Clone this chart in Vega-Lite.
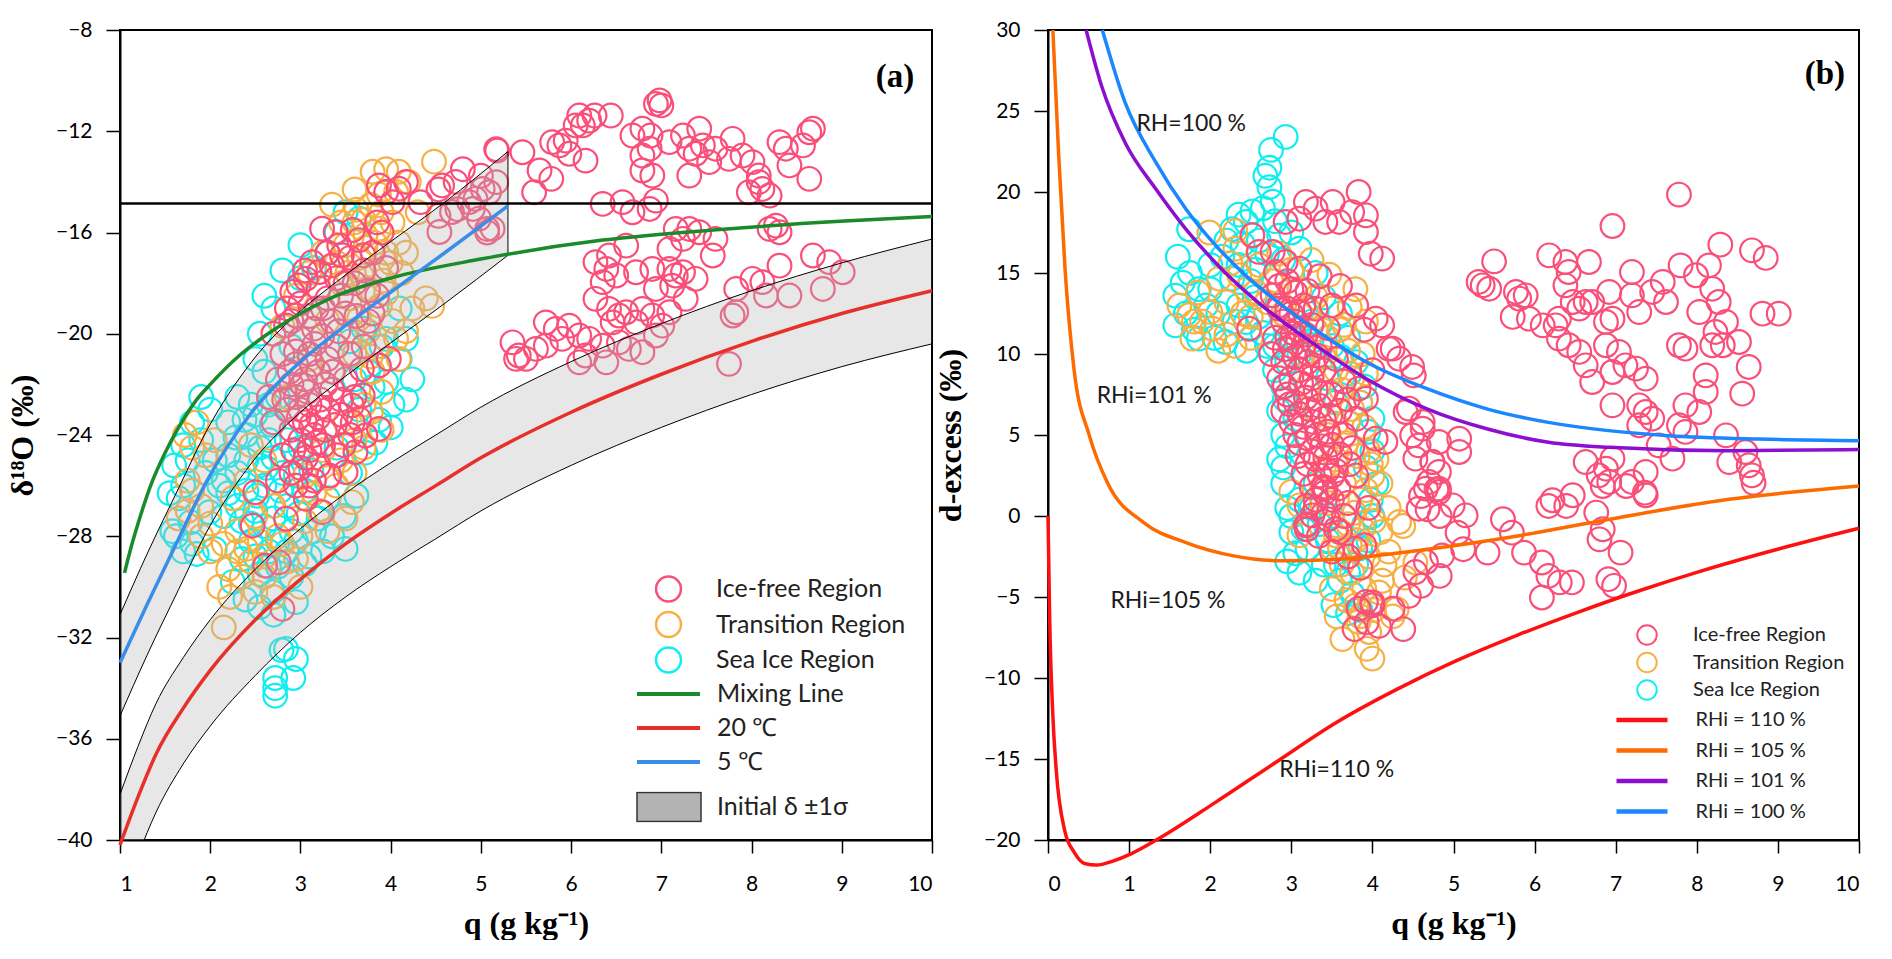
{
  "$schema": "https://vega.github.io/schema/vega-lite/v6.json",
  "background": "white",
  "padding": {"left": 5, "top": 18, "right": 0, "bottom": 0},
  "bounds": "flush",
  "spacing": 116,
  "config": {
    "view": {"stroke": "black", "strokeWidth": 2},
    "axis": {
      "grid": false, "domainColor": "black", "domainWidth": 2,
      "tickColor": "black", "tickWidth": 1.5, "tickSize": 13,
      "labelFont": "Lato", "labelFontSize": 21, "labelColor": "black",
      "titleFont": "Liberation Serif", "titleFontWeight": "bold", "titleFontSize": 32, "titleColor": "black"
    },
    "axisX": {"labelPadding": 20, "titlePadding": 14},
    "axisY": {"labelPadding": 14, "tickSize": 14, "titlePadding": 16},
    "legend": {"padding": 0, "labelFont": "Lato", "labelColor": "#222222", "labelLimit": 400, "symbolOpacity": 1}
  },
  "resolve": {"scale": {"color": "independent", "stroke": "independent", "fill": "independent"}},
  "datasets": {
    "ptsA": [
      {"s":"S","q":3.5,"d":-15.2},{"s":"S","q":3.65,"d":-15.45},{"s":"S","q":3.4,"d":-16.0},{"s":"S","q":3.3,"d":-16.8},{"s":"S","q":3.15,"d":-17.4},
      {"s":"S","q":4.17,"d":-20.2},{"s":"S","q":4.24,"d":-21.8},{"s":"S","q":4.17,"d":-22.6},{"s":"S","q":4.02,"d":-22.8},{"s":"S","q":3.87,"d":-23.4},
      {"s":"S","q":3.83,"d":-24.3},{"s":"S","q":3.72,"d":-24.7},{"s":"S","q":3.9,"d":-20.5},{"s":"S","q":3.75,"d":-21.5},{"s":"S","q":3.95,"d":-21.9},
      {"s":"S","q":4.1,"d":-19.0},{"s":"S","q":3.0,"d":-24.5},{"s":"S","q":2.8,"d":-25.5},{"s":"S","q":2.6,"d":-26.0},{"s":"S","q":2.5,"d":-27.0},
      {"s":"S","q":2.7,"d":-27.3},{"s":"S","q":2.9,"d":-27.8},{"s":"S","q":2.4,"d":-26.2},{"s":"S","q":2.3,"d":-25.5},{"s":"S","q":2.2,"d":-24.8},
      {"s":"S","q":2.45,"d":-28.2},{"s":"S","q":2.65,"d":-28.6},{"s":"S","q":2.55,"d":-29.5},{"s":"S","q":2.75,"d":-29.2},{"s":"S","q":2.84,"d":-32.45},
      {"s":"S","q":2.95,"d":-32.85},{"s":"S","q":2.39,"d":-30.5},{"s":"S","q":2.69,"d":-30.2},{"s":"S","q":2.79,"d":-32.5},{"s":"S","q":2.72,"d":-33.6},
      {"s":"S","q":2.92,"d":-33.6},{"s":"S","q":2.72,"d":-34.0},{"s":"S","q":2.72,"d":-34.3},{"s":"S","q":1.65,"d":-26.5},{"s":"S","q":1.78,"d":-27.45},
      {"s":"S","q":1.85,"d":-28.7},{"s":"S","q":1.58,"d":-27.8},{"s":"S","q":1.99,"d":-27.05},{"s":"S","q":1.6,"d":-25.2},{"s":"S","q":1.7,"d":-26.0},
      {"s":"S","q":1.9,"d":-22.5},{"s":"S","q":2.0,"d":-23.0},{"s":"S","q":2.2,"d":-23.5},{"s":"S","q":1.8,"d":-28.3},{"s":"S","q":1.62,"d":-28.0},
      {"s":"S","q":2.1,"d":-26.0},{"s":"S","q":1.75,"d":-25.0},{"s":"S","q":2.05,"d":-28.5},{"s":"S","q":2.3,"d":-22.5},{"s":"S","q":2.5,"d":-23.2},
      {"s":"S","q":2.6,"d":-21.5},{"s":"S","q":2.75,"d":-22.5},{"s":"S","q":3.05,"d":-26.2},{"s":"S","q":3.2,"d":-27.3},{"s":"S","q":3.35,"d":-28.0},
      {"s":"S","q":3.5,"d":-28.5},{"s":"S","q":3.3,"d":-26.5},{"s":"S","q":2.9,"d":-20.5},{"s":"S","q":2.7,"d":-19.0},{"s":"S","q":2.8,"d":-17.5},
      {"s":"S","q":2.6,"d":-18.5},{"s":"S","q":3.0,"d":-16.5},{"s":"S","q":3.7,"d":-19.8},{"s":"S","q":3.55,"d":-20.3},{"s":"S","q":3.65,"d":-23.0},
      {"s":"S","q":2.4,"d":-24.0},{"s":"S","q":1.95,"d":-25.5},{"s":"S","q":2.15,"d":-27.2},{"s":"S","q":3.1,"d":-28.8},{"s":"S","q":2.9,"d":-29.6},
      {"s":"S","q":2.35,"d":-27.4},{"s":"S","q":2.55,"d":-25.2},{"s":"S","q":2.85,"d":-26.8},{"s":"S","q":2.65,"d":-24.2},{"s":"S","q":2.45,"d":-22.8},
      {"s":"S","q":2.3,"d":-26.8},{"s":"S","q":2.45,"d":-27.5},{"s":"S","q":2.6,"d":-27.6},{"s":"S","q":2.75,"d":-28.2},{"s":"S","q":2.85,"d":-28.6},
      {"s":"S","q":2.95,"d":-28.2},{"s":"S","q":3.05,"d":-29.1},{"s":"S","q":2.65,"d":-29.2},{"s":"S","q":2.5,"d":-28.8},{"s":"S","q":2.35,"d":-28.9},
      {"s":"S","q":2.25,"d":-29.8},{"s":"S","q":2.55,"d":-30.8},{"s":"S","q":2.7,"d":-31.1},{"s":"S","q":2.95,"d":-30.6},{"s":"S","q":2.15,"d":-25.8},
      {"s":"S","q":2.05,"d":-25.0},{"s":"S","q":2.2,"d":-26.3},{"s":"S","q":2.4,"d":-25.0},{"s":"S","q":2.55,"d":-24.5},{"s":"S","q":2.7,"d":-24.9},
      {"s":"S","q":2.85,"d":-24.2},{"s":"S","q":2.95,"d":-25.6},{"s":"S","q":3.15,"d":-27.8},{"s":"S","q":3.25,"d":-28.6},{"s":"S","q":1.9,"d":-24.2},
      {"s":"S","q":1.8,"d":-23.5},{"s":"S","q":1.7,"d":-24.4},{"s":"S","q":1.55,"d":-26.3},{"s":"S","q":1.7,"d":-28.6},{"s":"S","q":3.4,"d":-24.5},
      {"s":"S","q":3.55,"d":-25.5},{"s":"S","q":3.8,"d":-22.1},{"s":"S","q":4.0,"d":-23.7},{"s":"S","q":4.1,"d":-21.0},{"s":"S","q":3.95,"d":-20.2},
      {"s":"S","q":3.6,"d":-21.8},{"s":"S","q":2.55,"d":-20.0},{"s":"S","q":2.65,"d":-22.8},{"s":"S","q":2.5,"d":-21.0},{"s":"S","q":3.0,"d":-17.8},
      {"s":"S","q":2.62,"d":-25.3},{"s":"S","q":2.78,"d":-26.2},{"s":"S","q":2.52,"d":-26.4},{"s":"S","q":2.68,"d":-23.6},{"s":"S","q":2.38,"d":-23.4},
      {"s":"S","q":3.12,"d":-25.4},{"s":"S","q":2.98,"d":-27.1},{"s":"S","q":2.28,"d":-24.1},{"s":"S","q":3.48,"d":-27.2},{"s":"S","q":3.62,"d":-26.4},

      {"s":"T","q":3.8,"d":-13.6},{"s":"T","q":3.95,"d":-13.5},{"s":"T","q":4.09,"d":-13.6},{"s":"T","q":4.48,"d":-13.2},{"s":"T","q":4.06,"d":-14.4},
      {"s":"T","q":3.87,"d":-14.5},{"s":"T","q":3.72,"d":-16.1},{"s":"T","q":3.87,"d":-15.85},{"s":"T","q":4.09,"d":-16.4},{"s":"T","q":4.17,"d":-16.8},
      {"s":"T","q":3.6,"d":-15.6},{"s":"T","q":3.5,"d":-16.5},{"s":"T","q":3.4,"d":-17.2},{"s":"T","q":3.65,"d":-17.0},{"s":"T","q":3.85,"d":-17.5},
      {"s":"T","q":4.0,"d":-17.2},{"s":"T","q":3.75,"d":-18.2},{"s":"T","q":3.55,"d":-18.6},{"s":"T","q":3.95,"d":-18.4},{"s":"T","q":4.39,"d":-18.6},
      {"s":"T","q":4.46,"d":-18.9},{"s":"T","q":4.24,"d":-19.0},{"s":"T","q":4.17,"d":-19.9},{"s":"T","q":4.06,"d":-20.2},{"s":"T","q":4.09,"d":-21.0},
      {"s":"T","q":3.3,"d":-19.5},{"s":"T","q":3.35,"d":-21.5},{"s":"T","q":3.6,"d":-20.8},{"s":"T","q":3.8,"d":-21.5},{"s":"T","q":3.5,"d":-23.5},
      {"s":"T","q":3.7,"d":-24.5},{"s":"T","q":3.6,"d":-25.5},{"s":"T","q":3.4,"d":-26.0},{"s":"T","q":3.57,"d":-26.65},{"s":"T","q":3.5,"d":-27.3},
      {"s":"T","q":3.2,"d":-27.0},{"s":"T","q":3.0,"d":-28.0},{"s":"T","q":2.8,"d":-28.3},{"s":"T","q":2.6,"d":-28.8},{"s":"T","q":2.4,"d":-28.5},
      {"s":"T","q":2.3,"d":-27.8},{"s":"T","q":2.5,"d":-27.2},{"s":"T","q":2.7,"d":-26.8},{"s":"T","q":2.9,"d":-26.4},{"s":"T","q":2.2,"d":-29.3},
      {"s":"T","q":2.35,"d":-29.6},{"s":"T","q":2.22,"d":-30.4},{"s":"T","q":2.15,"d":-31.6},{"s":"T","q":2.0,"d":-27.5},{"s":"T","q":1.9,"d":-26.8},
      {"s":"T","q":1.8,"d":-24.5},{"s":"T","q":1.72,"d":-24.0},{"s":"T","q":1.85,"d":-23.5},{"s":"T","q":1.95,"d":-24.8},{"s":"T","q":2.05,"d":-24.2},
      {"s":"T","q":1.65,"d":-27.3},{"s":"T","q":1.75,"d":-27.0},{"s":"T","q":2.6,"d":-25.0},{"s":"T","q":2.45,"d":-24.4},{"s":"T","q":3.05,"d":-25.6},
      {"s":"T","q":3.25,"d":-24.6},{"s":"T","q":2.85,"d":-22.5},{"s":"T","q":3.1,"d":-21.0},{"s":"T","q":2.8,"d":-19.7},{"s":"T","q":2.95,"d":-18.5},
      {"s":"T","q":3.1,"d":-17.6},{"s":"T","q":3.25,"d":-16.8},{"s":"T","q":3.45,"d":-15.6},{"s":"T","q":3.35,"d":-14.9},{"s":"T","q":3.6,"d":-14.3},
      {"s":"T","q":4.2,"d":-14.0},{"s":"T","q":4.3,"d":-15.2},{"s":"T","q":3.7,"d":-22.8},{"s":"T","q":3.9,"d":-23.8},{"s":"T","q":3.0,"d":-30.0},
      {"s":"T","q":3.62,"d":-15.1},{"s":"T","q":3.78,"d":-14.9},{"s":"T","q":3.9,"d":-15.2},{"s":"T","q":4.02,"d":-15.6},{"s":"T","q":3.7,"d":-15.5},
      {"s":"T","q":3.82,"d":-16.4},{"s":"T","q":3.95,"d":-16.8},{"s":"T","q":4.12,"d":-17.6},{"s":"T","q":3.68,"d":-17.7},{"s":"T","q":3.88,"d":-18.9},
      {"s":"T","q":4.02,"d":-19.5},{"s":"T","q":3.65,"d":-19.4},{"s":"T","q":3.45,"d":-18.0},{"s":"T","q":3.85,"d":-20.5},{"s":"T","q":3.9,"d":-22.3},
      {"s":"T","q":3.78,"d":-23.1},{"s":"T","q":3.6,"d":-24.2},{"s":"T","q":3.45,"d":-25.0},{"s":"T","q":3.3,"d":-25.7},{"s":"T","q":3.15,"d":-26.3},
      {"s":"T","q":3.3,"d":-27.8},{"s":"T","q":3.05,"d":-27.4},{"s":"T","q":2.95,"d":-28.9},{"s":"T","q":2.75,"d":-28.0},{"s":"T","q":2.55,"d":-28.2},
      {"s":"T","q":2.45,"d":-29.0},{"s":"T","q":2.3,"d":-28.6},{"s":"T","q":2.15,"d":-28.3},{"s":"T","q":2.0,"d":-28.6},{"s":"T","q":1.9,"d":-28.0},
      {"s":"T","q":2.1,"d":-30.0},{"s":"T","q":2.6,"d":-29.6},{"s":"T","q":2.85,"d":-29.0},{"s":"T","q":2.7,"d":-30.4},{"s":"T","q":2.5,"d":-30.2},
      {"s":"T","q":1.8,"d":-26.2},{"s":"T","q":2.25,"d":-26.5},{"s":"T","q":2.4,"d":-25.8},{"s":"T","q":1.75,"d":-25.8},{"s":"T","q":3.75,"d":-19.9},
      {"s":"T","q":3.52,"d":-17.6},{"s":"T","q":3.72,"d":-16.6},{"s":"T","q":3.92,"d":-17.9},{"s":"T","q":3.58,"d":-19.9},{"s":"T","q":3.78,"d":-20.9},

      {"s":"I","q":2.95,"d":-22.5},{"s":"I","q":3.0,"d":-23.0},{"s":"I","q":3.05,"d":-23.5},{"s":"I","q":3.1,"d":-22.8},{"s":"I","q":3.15,"d":-24.0},
      {"s":"I","q":3.2,"d":-23.3},{"s":"I","q":3.0,"d":-24.2},{"s":"I","q":2.9,"d":-23.8},{"s":"I","q":3.1,"d":-24.6},{"s":"I","q":3.25,"d":-24.4},
      {"s":"I","q":3.3,"d":-23.0},{"s":"I","q":3.35,"d":-22.2},{"s":"I","q":3.05,"d":-21.8},{"s":"I","q":2.9,"d":-22.0},{"s":"I","q":2.85,"d":-23.0},
      {"s":"I","q":3.2,"d":-21.5},{"s":"I","q":3.3,"d":-21.0},{"s":"I","q":3.1,"d":-20.8},{"s":"I","q":2.95,"d":-21.2},{"s":"I","q":3.4,"d":-20.5},
      {"s":"I","q":3.0,"d":-20.2},{"s":"I","q":2.8,"d":-20.8},{"s":"I","q":2.75,"d":-21.8},{"s":"I","q":3.15,"d":-19.8},{"s":"I","q":3.35,"d":-19.5},
      {"s":"I","q":3.5,"d":-19.2},{"s":"I","q":3.25,"d":-19.0},{"s":"I","q":2.9,"d":-19.5},{"s":"I","q":3.45,"d":-18.5},{"s":"I","q":3.6,"d":-18.0},
      {"s":"I","q":3.7,"d":-17.5},{"s":"I","q":3.55,"d":-17.0},{"s":"I","q":3.8,"d":-16.8},{"s":"I","q":3.65,"d":-16.3},{"s":"I","q":3.9,"d":-16.0},
      {"s":"I","q":3.4,"d":-17.8},{"s":"I","q":3.2,"d":-18.2},{"s":"I","q":3.5,"d":-21.8},{"s":"I","q":3.6,"d":-22.5},{"s":"I","q":3.45,"d":-23.2},
      {"s":"I","q":3.55,"d":-24.0},{"s":"I","q":3.4,"d":-24.8},{"s":"I","q":3.2,"d":-25.2},{"s":"I","q":3.0,"d":-25.3},{"s":"I","q":2.8,"d":-24.8},
      {"s":"I","q":2.7,"d":-23.5},{"s":"I","q":2.65,"d":-22.5},{"s":"I","q":2.75,"d":-25.8},{"s":"I","q":2.95,"d":-26.0},{"s":"I","q":3.15,"d":-25.8},
      {"s":"I","q":3.7,"d":-20.5},{"s":"I","q":3.75,"d":-19.5},{"s":"I","q":3.85,"d":-18.5},{"s":"I","q":3.0,"d":-18.8},{"s":"I","q":2.85,"d":-19.0},
      {"s":"I","q":2.7,"d":-20.0},{"s":"I","q":3.3,"d":-16.8},{"s":"I","q":3.05,"d":-17.5},
      {"s":"I","q":3.02,"d":-22.0},{"s":"I","q":3.08,"d":-22.3},{"s":"I","q":3.12,"d":-23.6},{"s":"I","q":3.18,"d":-24.3},{"s":"I","q":3.22,"d":-22.6},
      {"s":"I","q":3.27,"d":-23.8},{"s":"I","q":3.13,"d":-21.2},{"s":"I","q":3.28,"d":-22.0},{"s":"I","q":3.38,"d":-23.6},{"s":"I","q":3.06,"d":-24.9},
      {"s":"I","q":2.98,"d":-23.3},{"s":"I","q":2.92,"d":-24.6},{"s":"I","q":3.16,"d":-20.4},{"s":"I","q":3.24,"d":-20.1},{"s":"I","q":3.36,"d":-21.5},
      {"s":"I","q":3.45,"d":-22.6},{"s":"I","q":2.88,"d":-21.5},{"s":"I","q":2.82,"d":-22.6},{"s":"I","q":3.18,"d":-19.0},{"s":"I","q":3.42,"d":-19.9},
      {"s":"I","q":3.55,"d":-20.8},{"s":"I","q":3.5,"d":-18.0},{"s":"I","q":3.3,"d":-18.6},{"s":"I","q":3.1,"d":-19.3},{"s":"I","q":2.95,"d":-20.7},
      {"s":"I","q":3.62,"d":-19.3},{"s":"I","q":3.68,"d":-21.4},{"s":"I","q":3.58,"d":-23.5},{"s":"I","q":3.32,"d":-25.6},{"s":"I","q":3.1,"d":-26.0},
      {"s":"I","q":2.9,"d":-25.5},{"s":"I","q":3.48,"d":-24.4},{"s":"I","q":3.75,"d":-18.3},{"s":"I","q":3.7,"d":-16.9},{"s":"I","q":3.85,"d":-15.6},
      {"s":"I","q":3.58,"d":-15.9},{"s":"I","q":3.46,"d":-16.9},{"s":"I","q":3.35,"d":-17.3},{"s":"I","q":3.95,"d":-17.4},{"s":"I","q":3.8,"d":-19.2},
      {"s":"I","q":3.95,"d":-14.4},{"s":"I","q":4.09,"d":-14.27},{"s":"I","q":3.87,"d":-14.14},{"s":"I","q":4.02,"d":-14.8},{"s":"I","q":4.17,"d":-14.0},
      {"s":"I","q":4.57,"d":-14.14},{"s":"I","q":4.72,"d":-14.0},{"s":"I","q":4.87,"d":-14.8},{"s":"I","q":4.98,"d":-15.45},{"s":"I","q":5.13,"d":-15.85},
      {"s":"I","q":4.68,"d":-15.19},{"s":"I","q":4.54,"d":-15.98},{"s":"I","q":3.24,"d":-15.85},{"s":"I","q":3.39,"d":-15.98},{"s":"I","q":3.43,"d":-16.51},
      {"s":"I","q":3.13,"d":-17.17},{"s":"I","q":2.98,"d":-18.09},{"s":"I","q":3.06,"d":-17.83},{"s":"I","q":2.91,"d":-18.35},{"s":"I","q":3.21,"d":-17.56},
      {"s":"I","q":2.95,"d":-19.28},{"s":"I","q":2.84,"d":-19.67},{"s":"I","q":3.98,"d":-20.99},{"s":"I","q":3.87,"d":-21.25},{"s":"I","q":3.87,"d":-23.76},
      {"s":"I","q":3.72,"d":-24.02},{"s":"I","q":3.57,"d":-22.83},{"s":"I","q":3.69,"d":-22.44},{"s":"I","q":3.65,"d":-23.36},{"s":"I","q":2.5,"d":-26.26},
      {"s":"I","q":2.84,"d":-27.31},{"s":"I","q":2.47,"d":-27.58},{"s":"I","q":2.61,"d":-29.16},{"s":"I","q":2.76,"d":-29.03},{"s":"I","q":2.8,"d":-30.87},
      {"s":"I","q":3.06,"d":-26.52},{"s":"I","q":3.24,"d":-27.05},{"s":"I","q":3.5,"d":-25.47},{"s":"I","q":3.61,"d":-24.68},
      {"s":"I","q":5.17,"d":-12.71},{"s":"I","q":4.8,"d":-13.5},{"s":"I","q":5.0,"d":-13.76},{"s":"I","q":4.53,"d":-14.3},{"s":"I","q":4.33,"d":-14.8},
      {"s":"I","q":4.74,"d":-15.08},{"s":"I","q":5.07,"d":-16.0},{"s":"I","q":4.53,"d":-15.34},
      {"s":"I","q":5.02,"d":-14.28},{"s":"I","q":5.09,"d":-14.41},{"s":"I","q":4.94,"d":-14.67},{"s":"I","q":5.07,"d":-15.86},{"s":"I","q":5.17,"d":-14.01},{"s":"I","q":4.91,"d":-15.07},
      {"s":"I","q":5.18,"d":-12.76},{"s":"I","q":5.46,"d":-12.83},{"s":"I","q":5.65,"d":-13.55},{"s":"I","q":5.78,"d":-13.88},{"s":"I","q":5.59,"d":-14.41},
      {"s":"I","q":5.79,"d":-12.43},{"s":"I","q":5.87,"d":-12.56},{"s":"I","q":5.98,"d":-12.89},{"s":"I","q":5.94,"d":-12.37},{"s":"I","q":6.09,"d":-11.38},
      {"s":"I","q":6.13,"d":-11.77},{"s":"I","q":6.2,"d":-11.58},{"s":"I","q":6.05,"d":-11.77},{"s":"I","q":6.16,"d":-13.16},{"s":"I","q":6.44,"d":-11.38},
      {"s":"I","q":6.26,"d":-11.38},{"s":"I","q":6.98,"d":-10.78},{"s":"I","q":7.0,"d":-10.98},{"s":"I","q":6.94,"d":-10.92},{"s":"I","q":6.68,"d":-12.17},
      {"s":"I","q":6.79,"d":-11.9},{"s":"I","q":6.88,"d":-12.17},{"s":"I","q":6.87,"d":-12.69},{"s":"I","q":6.79,"d":-13.55},{"s":"I","q":6.9,"d":-13.75},
      {"s":"I","q":6.79,"d":-12.96},{"s":"I","q":7.09,"d":-12.43},{"s":"I","q":7.24,"d":-12.17},{"s":"I","q":7.31,"d":-12.69},{"s":"I","q":7.38,"d":-12.89},
      {"s":"I","q":7.46,"d":-12.56},{"s":"I","q":7.42,"d":-11.9},{"s":"I","q":7.53,"d":-13.22},{"s":"I","q":7.31,"d":-13.75},{"s":"I","q":7.6,"d":-12.69},
      {"s":"I","q":7.75,"d":-13.09},{"s":"I","q":7.79,"d":-12.3},{"s":"I","q":7.9,"d":-12.96},{"s":"I","q":8.01,"d":-13.22},{"s":"I","q":7.97,"d":-14.41},
      {"s":"I","q":8.08,"d":-14.01},{"s":"I","q":8.12,"d":-14.28},{"s":"I","q":8.2,"d":-14.54},{"s":"I","q":8.31,"d":-12.43},{"s":"I","q":8.38,"d":-12.69},
      {"s":"I","q":8.42,"d":-13.35},{"s":"I","q":8.57,"d":-12.56},{"s":"I","q":8.64,"d":-12.04},{"s":"I","q":8.68,"d":-11.9},{"s":"I","q":8.64,"d":-13.88},
      {"s":"I","q":8.08,"d":-13.75},
      {"s":"I","q":6.35,"d":-14.87},{"s":"I","q":6.57,"d":-14.8},{"s":"I","q":6.68,"d":-15.2},{"s":"I","q":6.94,"d":-14.74},{"s":"I","q":6.87,"d":-15.07},
      {"s":"I","q":7.31,"d":-15.86},{"s":"I","q":7.42,"d":-15.99},{"s":"I","q":7.6,"d":-16.25},{"s":"I","q":7.24,"d":-16.25},{"s":"I","q":7.09,"d":-16.65},
      {"s":"I","q":7.16,"d":-15.86},{"s":"I","q":7.57,"d":-16.91},{"s":"I","q":8.27,"d":-15.73},{"s":"I","q":8.31,"d":-15.99},{"s":"I","q":8.2,"d":-15.86},
      {"s":"I","q":6.61,"d":-16.52},{"s":"I","q":6.42,"d":-16.91},{"s":"I","q":6.27,"d":-17.17},{"s":"I","q":6.39,"d":-17.44},{"s":"I","q":6.5,"d":-17.7},
      {"s":"I","q":6.72,"d":-17.57},{"s":"I","q":6.9,"d":-17.44},{"s":"I","q":7.09,"d":-17.44},{"s":"I","q":7.16,"d":-17.7},{"s":"I","q":7.24,"d":-17.57},
      {"s":"I","q":7.38,"d":-17.83},{"s":"I","q":6.94,"d":-18.23},{"s":"I","q":7.12,"d":-18.1},{"s":"I","q":7.27,"d":-18.62},{"s":"I","q":6.35,"d":-17.96},
      {"s":"I","q":6.27,"d":-18.62},{"s":"I","q":6.42,"d":-19.02},{"s":"I","q":6.53,"d":-19.28},{"s":"I","q":6.61,"d":-19.15},{"s":"I","q":6.46,"d":-19.55},
      {"s":"I","q":6.72,"d":-19.55},{"s":"I","q":6.9,"d":-19.28},{"s":"I","q":7.01,"d":-19.68},{"s":"I","q":6.79,"d":-19.02},{"s":"I","q":7.09,"d":-19.15},
      {"s":"I","q":5.83,"d":-19.81},{"s":"I","q":5.98,"d":-19.68},{"s":"I","q":5.72,"d":-19.55},{"s":"I","q":6.09,"d":-20.07},{"s":"I","q":5.9,"d":-20.2},
      {"s":"I","q":6.2,"d":-20.2},{"s":"I","q":5.72,"d":-20.47},{"s":"I","q":5.61,"d":-20.6},{"s":"I","q":5.42,"d":-20.86},{"s":"I","q":5.35,"d":-20.34},
      {"s":"I","q":5.5,"d":-20.99},{"s":"I","q":5.39,"d":-20.99},{"s":"I","q":6.16,"d":-20.86},{"s":"I","q":6.35,"d":-20.47},
      {"s":"I","q":7.83,"d":-18.23},{"s":"I","q":8.01,"d":-17.83},{"s":"I","q":8.12,"d":-17.96},{"s":"I","q":8.31,"d":-17.31},{"s":"I","q":8.68,"d":-16.91},
      {"s":"I","q":8.86,"d":-17.17},{"s":"I","q":9.01,"d":-17.57},{"s":"I","q":8.16,"d":-18.49},{"s":"I","q":8.42,"d":-18.49},{"s":"I","q":8.79,"d":-18.23},
      {"s":"I","q":7.79,"d":-19.28},{"s":"I","q":7.83,"d":-19.15},{"s":"I","q":6.64,"d":-20.6},{"s":"I","q":6.79,"d":-20.73},{"s":"I","q":6.53,"d":-20.34},
      {"s":"I","q":6.94,"d":-20.07},{"s":"I","q":6.09,"d":-21.13},{"s":"I","q":6.39,"d":-21.13},{"s":"I","q":7.75,"d":-21.19}
    ],
    "bandA": [
      {"b":"U","q":1.0,"d":-35.1,"d2":-31.1},{"b":"U","q":1.3,"d":-32.7,"d2":-28.7},{"b":"U","q":1.65,"d":-30.1,"d2":-26.1},
      {"b":"U","q":1.95,"d":-27.9,"d2":-23.9},{"b":"U","q":2.46,"d":-25.1,"d2":-21.1},{"b":"U","q":3.0,"d":-23.1,"d2":-19.1},
      {"b":"U","q":3.4,"d":-21.95,"d2":-17.95},{"b":"U","q":4.0,"d":-20.36,"d2":-16.36},{"b":"U","q":4.6,"d":-18.8,"d2":-14.8},
      {"b":"U","q":5.3,"d":-16.9,"d2":-12.8},
      {"b":"L","q":1.0,"d":-42.5,"d2":-38.2},{"b":"L","q":1.2,"d":-40.6,"d2":-36.3},{"b":"L","q":1.4,"d":-38.9,"d2":-34.6},
      {"b":"L","q":1.7,"d":-37.0,"d2":-32.8},{"b":"L","q":2.0,"d":-35.5,"d2":-31.3},{"b":"L","q":2.5,"d":-33.5,"d2":-29.3},
      {"b":"L","q":3.0,"d":-31.8,"d2":-27.7},{"b":"L","q":3.5,"d":-30.4,"d2":-26.3},{"b":"L","q":4.0,"d":-29.2,"d2":-25.1},
      {"b":"L","q":4.5,"d":-28.1,"d2":-24.0},{"b":"L","q":5.0,"d":-27.0,"d2":-22.9},{"b":"L","q":6.0,"d":-25.2,"d2":-21.1},
      {"b":"L","q":7.0,"d":-23.7,"d2":-19.6},{"b":"L","q":8.0,"d":-22.4,"d2":-18.3},{"b":"L","q":9.0,"d":-21.3,"d2":-17.2},
      {"b":"L","q":10.0,"d":-20.4,"d2":-16.26}
    ],
    "curA": [
      {"c":"M","q":1.05,"d":-29.45},{"c":"M","q":1.1,"d":-28.74},{"c":"M","q":1.2,"d":-27.5},{"c":"M","q":1.35,"d":-25.9},
      {"c":"M","q":1.5,"d":-24.7},{"c":"M","q":1.65,"d":-23.7},{"c":"M","q":1.85,"d":-22.6},{"c":"M","q":2.0,"d":-22.0},
      {"c":"M","q":2.32,"d":-20.87},{"c":"M","q":2.6,"d":-20.1},{"c":"M","q":3.0,"d":-19.2},{"c":"M","q":3.33,"d":-18.6},
      {"c":"M","q":4.0,"d":-17.8},{"c":"M","q":5.0,"d":-17.05},{"c":"M","q":6.35,"d":-16.3},{"c":"M","q":7.69,"d":-15.87},
      {"c":"M","q":9.03,"d":-15.55},{"c":"M","q":10.0,"d":-15.37},
      {"c":"20","q":1.0,"d":-40.2},{"c":"20","q":1.2,"d":-38.3},{"c":"20","q":1.4,"d":-36.6},{"c":"20","q":1.7,"d":-34.8},
      {"c":"20","q":2.0,"d":-33.3},{"c":"20","q":2.5,"d":-31.3},{"c":"20","q":3.0,"d":-29.7},{"c":"20","q":3.5,"d":-28.3},
      {"c":"20","q":4.0,"d":-27.1},{"c":"20","q":4.5,"d":-26.0},{"c":"20","q":5.0,"d":-24.9},{"c":"20","q":6.0,"d":-23.1},
      {"c":"20","q":7.0,"d":-21.6},{"c":"20","q":8.0,"d":-20.3},{"c":"20","q":9.0,"d":-19.2},{"c":"20","q":10.0,"d":-18.3},
      {"c":"5","q":1.0,"d":-33.0},{"c":"5","q":1.3,"d":-30.7},{"c":"5","q":1.65,"d":-28.1},{"c":"5","q":1.95,"d":-25.9},
      {"c":"5","q":2.46,"d":-23.1},{"c":"5","q":3.0,"d":-21.1},{"c":"5","q":3.4,"d":-19.95},{"c":"5","q":4.0,"d":-18.36},
      {"c":"5","q":4.6,"d":-16.8},{"c":"5","q":5.3,"d":-14.95}
    ],
    "hlineA": [{"q":1,"d":-14.85},{"q":10,"d":-14.85}],
    "lblA": [{"q":9.59,"d":-9.86,"t":"(a)"}],
    "ptsB": [
      {"s":"S","q":2.93,"d":23.4},{"s":"S","q":2.75,"d":22.6},{"s":"S","q":2.73,"d":21.5},{"s":"S","q":2.68,"d":21.0},{"s":"S","q":2.73,"d":20.3},
      {"s":"S","q":2.77,"d":19.4},{"s":"S","q":2.52,"d":18.8},{"s":"S","q":2.35,"d":18.6},{"s":"S","q":2.44,"d":18.15},{"s":"S","q":2.27,"d":17.7},
      {"s":"S","q":1.74,"d":17.7},{"s":"S","q":1.57,"d":13.6},{"s":"S","q":1.66,"d":14.4},{"s":"S","q":1.86,"d":14.0},{"s":"S","q":2.27,"d":14.65},
      {"s":"S","q":1.86,"d":10.95},{"s":"S","q":2.19,"d":10.74},{"s":"S","q":2.44,"d":11.97},{"s":"S","q":1.57,"d":11.77},{"s":"S","q":2.0,"d":15.5},
      {"s":"S","q":2.15,"d":16.0},{"s":"S","q":2.4,"d":16.8},{"s":"S","q":2.6,"d":17.0},{"s":"S","q":2.55,"d":15.2},{"s":"S","q":2.7,"d":16.2},
      {"s":"S","q":2.85,"d":17.3},{"s":"S","q":2.9,"d":15.8},{"s":"S","q":2.1,"d":12.5},{"s":"S","q":2.3,"d":12.0},{"s":"S","q":2.6,"d":12.3},
      {"s":"S","q":2.7,"d":10.5},{"s":"S","q":2.45,"d":10.2},{"s":"S","q":1.7,"d":12.5},{"s":"S","q":2.8,"d":9.0},{"s":"S","q":2.9,"d":8.0},
      {"s":"S","q":2.85,"d":6.5},{"s":"S","q":2.9,"d":5.0},{"s":"S","q":2.85,"d":3.5},{"s":"S","q":2.9,"d":2.0},{"s":"S","q":2.95,"d":0.5},
      {"s":"S","q":3.0,"d":-1.0},{"s":"S","q":3.05,"d":-2.3},{"s":"S","q":3.6,"d":12.5},{"s":"S","q":3.7,"d":11.0},{"s":"S","q":3.8,"d":9.5},
      {"s":"S","q":3.9,"d":8.0},{"s":"S","q":4.0,"d":6.0},{"s":"S","q":4.0,"d":4.0},{"s":"S","q":4.05,"d":2.0},{"s":"S","q":4.0,"d":0.0},
      {"s":"S","q":3.95,"d":-1.5},{"s":"S","q":3.8,"d":-3.0},{"s":"S","q":3.75,"d":-4.8},{"s":"S","q":3.85,"d":-5.8},{"s":"S","q":3.6,"d":-4.0},
      {"s":"S","q":3.4,"d":-3.0},{"s":"S","q":3.5,"d":0.0},{"s":"S","q":3.3,"d":2.0},{"s":"S","q":3.2,"d":-2.0},{"s":"S","q":3.1,"d":1.0},
      {"s":"S","q":3.45,"d":8.5},{"s":"S","q":3.55,"d":7.0},{"s":"S","q":3.25,"d":12.0},{"s":"S","q":3.4,"d":13.5},{"s":"S","q":2.55,"d":13.5},
      {"s":"S","q":2.35,"d":13.0},{"s":"S","q":2.05,"d":11.0},{"s":"S","q":1.95,"d":13.0},
      {"s":"S","q":3.0,"d":11.0},{"s":"S","q":3.1,"d":10.0},{"s":"S","q":2.95,"d":9.5},{"s":"S","q":3.25,"d":10.8},{"s":"S","q":3.35,"d":11.8},
      {"s":"S","q":3.5,"d":10.5},{"s":"S","q":3.62,"d":9.8},{"s":"S","q":3.72,"d":8.8},{"s":"S","q":3.85,"d":7.0},{"s":"S","q":3.95,"d":5.2},
      {"s":"S","q":3.92,"d":3.0},{"s":"S","q":3.98,"d":1.0},{"s":"S","q":3.9,"d":-0.5},{"s":"S","q":3.85,"d":-2.0},{"s":"S","q":3.7,"d":-3.5},
      {"s":"S","q":3.55,"d":-3.0},{"s":"S","q":3.45,"d":-1.5},{"s":"S","q":3.35,"d":-0.5},{"s":"S","q":3.25,"d":0.5},{"s":"S","q":3.15,"d":-0.8},
      {"s":"S","q":3.0,"d":0.0},{"s":"S","q":2.95,"d":-2.8},{"s":"S","q":3.1,"d":-3.5},{"s":"S","q":3.3,"d":-4.0},{"s":"S","q":3.52,"d":-5.5},
      {"s":"S","q":3.7,"d":-6.0},{"s":"S","q":2.9,"d":3.0},{"s":"S","q":2.95,"d":4.3},{"s":"S","q":3.05,"d":6.0},{"s":"S","q":2.92,"d":7.2},
      {"s":"S","q":2.8,"d":10.5},{"s":"S","q":2.65,"d":11.3},{"s":"S","q":2.5,"d":14.5},{"s":"S","q":2.35,"d":15.5},{"s":"S","q":2.2,"d":17.0},
      {"s":"S","q":2.0,"d":14.0},{"s":"S","q":1.75,"d":15.0},{"s":"S","q":1.6,"d":16.0},{"s":"S","q":1.8,"d":11.5},{"s":"S","q":2.65,"d":19.0},
      {"s":"S","q":2.8,"d":18.2},{"s":"S","q":3.0,"d":17.5},{"s":"S","q":3.1,"d":16.5},{"s":"S","q":3.3,"d":15.0},

      {"s":"T","q":1.99,"d":17.5},{"s":"T","q":2.31,"d":17.6},{"s":"T","q":3.79,"d":14.0},{"s":"T","q":3.47,"d":14.9},{"s":"T","q":1.62,"d":13.0},
      {"s":"T","q":1.74,"d":12.4},{"s":"T","q":1.78,"d":10.95},{"s":"T","q":2.03,"d":11.56},{"s":"T","q":2.11,"d":14.65},{"s":"T","q":2.36,"d":14.86},
      {"s":"T","q":2.56,"d":13.83},{"s":"T","q":2.31,"d":16.5},{"s":"T","q":1.9,"d":12.0},{"s":"T","q":2.2,"d":13.2},{"s":"T","q":2.4,"d":12.5},
      {"s":"T","q":2.6,"d":15.5},{"s":"T","q":2.75,"d":14.5},{"s":"T","q":2.5,"d":11.0},{"s":"T","q":2.3,"d":10.5},{"s":"T","q":1.85,"d":13.8},
      {"s":"T","q":2.1,"d":10.2},{"s":"T","q":3.3,"d":13.5},{"s":"T","q":3.5,"d":12.8},{"s":"T","q":3.6,"d":11.5},{"s":"T","q":3.7,"d":10.2},
      {"s":"T","q":3.55,"d":9.0},{"s":"T","q":3.75,"d":8.5},{"s":"T","q":3.85,"d":7.0},{"s":"T","q":3.9,"d":5.5},{"s":"T","q":3.95,"d":4.0},
      {"s":"T","q":4.0,"d":2.5},{"s":"T","q":3.85,"d":1.0},{"s":"T","q":3.7,"d":-0.5},{"s":"T","q":3.8,"d":-1.5},{"s":"T","q":3.95,"d":-2.5},
      {"s":"T","q":4.1,"d":-1.0},{"s":"T","q":4.2,"d":0.5},{"s":"T","q":4.1,"d":2.0},{"s":"T","q":4.05,"d":3.5},{"s":"T","q":3.65,"d":2.0},
      {"s":"T","q":3.55,"d":3.5},{"s":"T","q":3.45,"d":5.0},{"s":"T","q":3.4,"d":3.0},{"s":"T","q":3.6,"d":-2.0},{"s":"T","q":3.75,"d":-3.5},
      {"s":"T","q":3.9,"d":-4.5},{"s":"T","q":3.93,"d":-8.2},{"s":"T","q":4.0,"d":-8.8},{"s":"T","q":3.56,"d":-6.2},{"s":"T","q":4.3,"d":-5.75},
      {"s":"T","q":4.53,"d":-2.87},{"s":"T","q":4.38,"d":-0.62},{"s":"T","q":4.08,"d":-4.72},{"s":"T","q":3.63,"d":-7.6},{"s":"T","q":3.83,"d":-6.54},
      {"s":"T","q":3.96,"d":-7.16},{"s":"T","q":4.33,"d":-0.37},{"s":"T","q":3.51,"d":-2.0},{"s":"T","q":3.1,"d":0.66},{"s":"T","q":3.3,"d":6.5},
      {"s":"T","q":3.2,"d":8.0},{"s":"T","q":3.15,"d":10.0},{"s":"T","q":2.9,"d":12.5},{"s":"T","q":3.0,"d":15.2},{"s":"T","q":3.25,"d":15.8},
      {"s":"T","q":2.85,"d":16.2},{"s":"T","q":3.45,"d":11.0},{"s":"T","q":3.0,"d":1.5},{"s":"T","q":3.1,"d":-1.2},{"s":"T","q":3.8,"d":-5.5},
      {"s":"T","q":4.15,"d":-3.0},{"s":"T","q":4.25,"d":-6.2},{"s":"T","q":4.4,"d":-3.8},{"s":"T","q":3.7,"d":5.8},{"s":"T","q":3.65,"d":11.8},
      {"s":"T","q":3.62,"d":-3.0},{"s":"T","q":3.72,"d":-1.8},{"s":"T","q":3.78,"d":0.2},{"s":"T","q":3.88,"d":-0.8},{"s":"T","q":3.92,"d":1.6},
      {"s":"T","q":3.98,"d":3.2},{"s":"T","q":3.82,"d":3.7},{"s":"T","q":3.68,"d":4.5},{"s":"T","q":3.75,"d":6.6},{"s":"T","q":3.62,"d":7.8},
      {"s":"T","q":3.92,"d":8.8},{"s":"T","q":3.88,"d":10.0},{"s":"T","q":3.5,"d":-4.5},{"s":"T","q":3.68,"d":-5.2},{"s":"T","q":3.85,"d":-6.2},
      {"s":"T","q":4.02,"d":-5.8},{"s":"T","q":4.12,"d":-4.0},{"s":"T","q":4.2,"d":-2.2},{"s":"T","q":4.02,"d":-0.3},{"s":"T","q":3.55,"d":-1.2},
      {"s":"T","q":3.45,"d":0.8},{"s":"T","q":3.38,"d":1.8},{"s":"T","q":3.55,"d":5.7},{"s":"T","q":3.4,"d":9.8},{"s":"T","q":3.3,"d":11.5},
      {"s":"T","q":3.2,"d":12.8},{"s":"T","q":3.1,"d":14.0},{"s":"T","q":2.7,"d":13.2},{"s":"T","q":2.5,"d":12.3},{"s":"T","q":2.2,"d":11.2},
      {"s":"T","q":2.0,"d":12.6},{"s":"T","q":1.8,"d":12.0},{"s":"T","q":2.25,"d":15.6},{"s":"T","q":2.45,"d":14.0},{"s":"T","q":3.92,"d":12.0},
      {"s":"T","q":3.72,"d":12.9},

      {"s":"I","q":2.85,"d":13.0},{"s":"I","q":2.9,"d":12.0},{"s":"I","q":2.95,"d":11.0},{"s":"I","q":3.0,"d":10.5},{"s":"I","q":3.05,"d":9.8},
      {"s":"I","q":3.1,"d":9.0},{"s":"I","q":3.0,"d":8.5},{"s":"I","q":2.95,"d":7.5},{"s":"I","q":3.05,"d":7.0},{"s":"I","q":3.1,"d":6.3},
      {"s":"I","q":3.15,"d":5.5},{"s":"I","q":3.2,"d":4.8},{"s":"I","q":3.25,"d":4.0},{"s":"I","q":3.3,"d":3.5},{"s":"I","q":3.0,"d":12.5},
      {"s":"I","q":3.1,"d":11.5},{"s":"I","q":3.15,"d":10.5},{"s":"I","q":3.2,"d":9.5},{"s":"I","q":3.25,"d":8.5},{"s":"I","q":3.3,"d":7.8},
      {"s":"I","q":3.35,"d":6.8},{"s":"I","q":3.4,"d":6.0},{"s":"I","q":3.45,"d":5.2},{"s":"I","q":3.5,"d":4.4},{"s":"I","q":2.9,"d":9.5},
      {"s":"I","q":2.85,"d":8.5},{"s":"I","q":2.9,"d":6.5},{"s":"I","q":3.0,"d":5.8},{"s":"I","q":3.1,"d":4.5},{"s":"I","q":3.2,"d":3.2},
      {"s":"I","q":3.35,"d":2.5},{"s":"I","q":3.4,"d":1.8},{"s":"I","q":3.5,"d":1.0},{"s":"I","q":3.55,"d":2.8},{"s":"I","q":3.6,"d":3.8},
      {"s":"I","q":3.65,"d":5.0},{"s":"I","q":3.6,"d":6.5},{"s":"I","q":3.5,"d":7.5},{"s":"I","q":3.4,"d":9.0},{"s":"I","q":3.35,"d":10.5},
      {"s":"I","q":3.25,"d":11.8},{"s":"I","q":3.15,"d":13.0},{"s":"I","q":3.05,"d":13.8},{"s":"I","q":2.95,"d":14.5},{"s":"I","q":2.8,"d":11.0},
      {"s":"I","q":2.75,"d":10.0},{"s":"I","q":3.7,"d":7.2},{"s":"I","q":3.8,"d":6.0},{"s":"I","q":3.75,"d":4.2},{"s":"I","q":3.3,"d":0.5},
      {"s":"I","q":3.2,"d":-0.5},{"s":"I","q":3.45,"d":-0.2},{"s":"I","q":3.6,"d":-1.0},{"s":"I","q":3.5,"d":-2.2},{"s":"I","q":3.7,"d":-2.5},
      {"s":"I","q":3.85,"d":-3.2},{"s":"I","q":3.9,"d":-1.8},{"s":"I","q":3.95,"d":0.5},{"s":"I","q":3.7,"d":0.8},{"s":"I","q":3.8,"d":2.5},
      {"s":"I","q":2.95,"d":12.8},{"s":"I","q":3.05,"d":12.0},{"s":"I","q":3.1,"d":12.6},{"s":"I","q":3.18,"d":11.2},{"s":"I","q":3.22,"d":10.0},
      {"s":"I","q":3.28,"d":9.3},{"s":"I","q":3.02,"d":11.3},{"s":"I","q":2.92,"d":10.3},{"s":"I","q":3.12,"d":8.2},{"s":"I","q":3.18,"d":7.3},
      {"s":"I","q":3.22,"d":6.6},{"s":"I","q":3.28,"d":5.8},{"s":"I","q":3.32,"d":5.0},{"s":"I","q":3.38,"d":4.3},{"s":"I","q":3.42,"d":3.6},
      {"s":"I","q":3.45,"d":2.8},{"s":"I","q":3.05,"d":5.0},{"s":"I","q":2.98,"d":6.9},{"s":"I","q":2.92,"d":8.0},{"s":"I","q":3.08,"d":3.7},
      {"s":"I","q":3.15,"d":2.6},{"s":"I","q":3.25,"d":1.8},{"s":"I","q":3.3,"d":1.0},{"s":"I","q":3.4,"d":0.2},{"s":"I","q":3.55,"d":-0.8},
      {"s":"I","q":3.65,"d":0.0},{"s":"I","q":3.58,"d":1.7},{"s":"I","q":3.48,"d":6.2},{"s":"I","q":3.4,"d":7.6},{"s":"I","q":3.32,"d":9.9},
      {"s":"I","q":3.45,"d":11.6},{"s":"I","q":3.55,"d":9.7},{"s":"I","q":3.65,"d":8.3},{"s":"I","q":3.72,"d":3.2},{"s":"I","q":3.3,"d":12.8},
      {"s":"I","q":3.2,"d":13.9},{"s":"I","q":3.0,"d":14.0},{"s":"I","q":2.85,"d":14.2},{"s":"I","q":3.35,"d":14.8},{"s":"I","q":3.5,"d":13.0},
      {"s":"I","q":3.6,"d":14.2},{"s":"I","q":3.8,"d":13.0},{"s":"I","q":3.9,"d":11.5},{"s":"I","q":4.0,"d":9.0},
      {"s":"I","q":3.83,"d":20.0},{"s":"I","q":3.18,"d":19.38},{"s":"I","q":3.3,"d":18.97},{"s":"I","q":3.51,"d":19.38},{"s":"I","q":3.42,"d":18.15},
      {"s":"I","q":3.1,"d":18.35},{"s":"I","q":2.93,"d":18.15},{"s":"I","q":3.92,"d":18.56},{"s":"I","q":3.92,"d":17.53},{"s":"I","q":3.98,"d":16.19},
      {"s":"I","q":3.75,"d":18.76},{"s":"I","q":3.59,"d":18.15},{"s":"I","q":4.04,"d":12.18},{"s":"I","q":4.25,"d":10.33},{"s":"I","q":4.49,"d":9.2},
      {"s":"I","q":2.6,"d":16.3},{"s":"I","q":2.77,"d":16.3},{"s":"I","q":2.93,"d":15.68},{"s":"I","q":3.1,"d":15.27},{"s":"I","q":2.81,"d":15.06},
      {"s":"I","q":2.52,"d":17.33},{"s":"I","q":2.77,"d":13.62},{"s":"I","q":2.48,"d":11.56},{"s":"I","q":2.85,"d":12.8},{"s":"I","q":3.83,"d":7.86},
      {"s":"I","q":3.92,"d":7.24},{"s":"I","q":4.04,"d":4.77},{"s":"I","q":4.16,"d":4.57},{"s":"I","q":4.45,"d":6.63},{"s":"I","q":4.62,"d":5.8},
      {"s":"I","q":4.82,"d":4.57},{"s":"I","q":5.07,"d":4.77},{"s":"I","q":4.57,"d":4.36},{"s":"I","q":4.74,"d":3.33},{"s":"I","q":4.7,"d":2.1},
      {"s":"I","q":4.82,"d":1.69},{"s":"I","q":4.99,"d":0.66},{"s":"I","q":5.15,"d":0.04},{"s":"I","q":4.57,"d":0.45},{"s":"I","q":4.53,"d":-3.46},
      {"s":"I","q":4.66,"d":-2.84},{"s":"I","q":4.86,"d":-2.43},{"s":"I","q":3.18,"d":-0.58},{"s":"I","q":3.26,"d":0.04},{"s":"I","q":3.42,"d":1.69},
      {"s":"I","q":3.51,"d":2.51},{"s":"I","q":3.79,"d":-2.02},{"s":"I","q":3.92,"d":-5.31},{"s":"I","q":4.0,"d":-5.51},{"s":"I","q":3.83,"d":-5.72},
      {"s":"I","q":4.25,"d":-5.72},
      {"s":"I","q":4.6,"d":1.23},{"s":"I","q":4.79,"d":1.64},{"s":"I","q":4.68,"d":0.41},{"s":"I","q":4.83,"d":0.0},{"s":"I","q":5.05,"d":-1.03},
      {"s":"I","q":5.12,"d":-2.05},{"s":"I","q":4.83,"d":-3.7},{"s":"I","q":4.6,"d":-4.31},{"s":"I","q":4.45,"d":-4.93},{"s":"I","q":5.42,"d":-2.26},
      {"s":"I","q":5.61,"d":-0.2},{"s":"I","q":5.72,"d":-1.03},{"s":"I","q":5.87,"d":-2.26},{"s":"I","q":6.09,"d":-2.87},{"s":"I","q":6.17,"d":-3.7},
      {"s":"I","q":6.09,"d":-5.03},{"s":"I","q":6.31,"d":-4.1},{"s":"I","q":6.46,"d":-4.1},{"s":"I","q":6.17,"d":0.62},{"s":"I","q":6.39,"d":0.62},
      {"s":"I","q":6.76,"d":0.21},{"s":"I","q":6.84,"d":-0.82},{"s":"I","q":6.8,"d":-1.44},{"s":"I","q":7.06,"d":-2.26},{"s":"I","q":6.91,"d":-3.9},
      {"s":"I","q":6.98,"d":-4.31},{"s":"I","q":6.84,"d":1.85},{"s":"I","q":7.13,"d":1.85},{"s":"I","q":7.36,"d":1.44},{"s":"I","q":8.7,"d":2.05},
      {"s":"I","q":3.78,"d":-6.98},{"s":"I","q":4.08,"d":-6.78},{"s":"I","q":3.93,"d":-6.57},{"s":"I","q":4.0,"d":-5.34},{"s":"I","q":4.38,"d":-6.98},
      {"s":"I","q":3.34,"d":-1.23},{"s":"I","q":3.19,"d":-0.82},{"s":"I","q":3.41,"d":1.44},{"s":"I","q":3.19,"d":0.62},
      {"s":"I","q":7.78,"d":19.84},{"s":"I","q":6.96,"d":17.9},{"s":"I","q":5.5,"d":15.72},{"s":"I","q":5.36,"d":14.24},{"s":"I","q":5.44,"d":14.03},
      {"s":"I","q":5.31,"d":14.45},{"s":"I","q":5.77,"d":13.83},{"s":"I","q":5.89,"d":13.62},{"s":"I","q":5.81,"d":13.42},{"s":"I","q":5.73,"d":12.29},
      {"s":"I","q":5.93,"d":12.18},{"s":"I","q":6.1,"d":11.77},{"s":"I","q":6.18,"d":16.09},{"s":"I","q":6.38,"d":15.68},{"s":"I","q":6.42,"d":15.06},
      {"s":"I","q":6.38,"d":14.24},{"s":"I","q":6.67,"d":15.68},{"s":"I","q":6.3,"d":12.18},{"s":"I","q":6.26,"d":11.77},{"s":"I","q":6.47,"d":13.21},
      {"s":"I","q":6.63,"d":13.21},{"s":"I","q":6.71,"d":13.21},{"s":"I","q":6.55,"d":12.8},{"s":"I","q":6.92,"d":13.83},{"s":"I","q":6.96,"d":12.18},
      {"s":"I","q":6.88,"d":11.98},{"s":"I","q":7.2,"d":15.06},{"s":"I","q":7.2,"d":13.62},{"s":"I","q":7.29,"d":12.59},{"s":"I","q":7.45,"d":13.83},
      {"s":"I","q":7.58,"d":14.45},{"s":"I","q":7.62,"d":13.21},{"s":"I","q":7.8,"d":15.47},{"s":"I","q":7.99,"d":14.86},{"s":"I","q":8.15,"d":15.47},
      {"s":"I","q":8.29,"d":16.75},{"s":"I","q":8.68,"d":16.4},{"s":"I","q":8.85,"d":15.93},{"s":"I","q":8.19,"d":14.03},{"s":"I","q":8.27,"d":13.21},
      {"s":"I","q":8.03,"d":12.59},{"s":"I","q":8.36,"d":11.98},{"s":"I","q":8.23,"d":11.36},{"s":"I","q":8.81,"d":12.49},{"s":"I","q":9.01,"d":12.49},
      {"s":"I","q":7.78,"d":10.54},{"s":"I","q":7.86,"d":10.33},{"s":"I","q":8.19,"d":10.54},{"s":"I","q":8.32,"d":10.54},{"s":"I","q":8.52,"d":10.74},
      {"s":"I","q":8.64,"d":9.2},{"s":"I","q":8.11,"d":8.68},{"s":"I","q":8.56,"d":7.55},{"s":"I","q":8.11,"d":7.66},{"s":"I","q":6.3,"d":10.95},
      {"s":"I","q":6.42,"d":10.54},{"s":"I","q":6.55,"d":10.13},{"s":"I","q":6.63,"d":9.3},{"s":"I","q":6.88,"d":10.54},{"s":"I","q":7.04,"d":10.13},
      {"s":"I","q":7.12,"d":9.3},{"s":"I","q":7.25,"d":9.1},{"s":"I","q":7.37,"d":8.48},{"s":"I","q":6.96,"d":8.89},{"s":"I","q":6.71,"d":8.27},
      {"s":"I","q":6.96,"d":6.83},{"s":"I","q":7.29,"d":6.83},{"s":"I","q":7.37,"d":6.42},{"s":"I","q":7.45,"d":6.01},{"s":"I","q":7.29,"d":5.6},
      {"s":"I","q":7.86,"d":6.83},{"s":"I","q":8.03,"d":6.42},{"s":"I","q":8.36,"d":4.98},{"s":"I","q":7.78,"d":5.6},{"s":"I","q":7.86,"d":5.19},
      {"s":"I","q":7.53,"d":4.36},{"s":"I","q":7.7,"d":3.54},{"s":"I","q":8.4,"d":3.33},{"s":"I","q":8.64,"d":3.13},{"s":"I","q":8.68,"d":2.51},
      {"s":"I","q":8.6,"d":3.95},{"s":"I","q":6.63,"d":3.33},{"s":"I","q":6.88,"d":2.92},{"s":"I","q":6.96,"d":3.54},{"s":"I","q":6.79,"d":2.51},
      {"s":"I","q":6.92,"d":2.1},{"s":"I","q":7.2,"d":2.1},{"s":"I","q":7.37,"d":2.72},{"s":"I","q":7.37,"d":1.28},{"s":"I","q":6.47,"d":1.28},
      {"s":"I","q":6.22,"d":0.97},{"s":"I","q":4.12,"d":15.89},{"s":"I","q":4.12,"d":11.77},{"s":"I","q":4.2,"d":10.33},{"s":"I","q":4.33,"d":9.71},
      {"s":"I","q":4.51,"d":8.68},{"s":"I","q":4.41,"d":6.42},{"s":"I","q":4.62,"d":5.39},{"s":"I","q":4.49,"d":4.98},{"s":"I","q":5.07,"d":3.95},
      {"s":"I","q":4.74,"d":3.33},{"s":"I","q":4.82,"d":2.72},{"s":"I","q":4.53,"d":3.54},{"s":"I","q":4.66,"d":1.69},{"s":"I","q":4.82,"d":1.48}
    ],
    "curB": [
      {"c":"110","q":0.0,"d":0.0},{"c":"110","q":0.02,"d":-6.16},{"c":"110","q":0.06,"d":-12.32},{"c":"110","q":0.1,"d":-15.6},
      {"c":"110","q":0.21,"d":-19.5},{"c":"110","q":0.32,"d":-20.74},{"c":"110","q":0.45,"d":-21.45},{"c":"110","q":0.6,"d":-21.55},
      {"c":"110","q":0.8,"d":-21.3},{"c":"110","q":1.03,"d":-20.84},{"c":"110","q":1.33,"d":-20.02},{"c":"110","q":2.07,"d":-17.66},
      {"c":"110","q":2.81,"d":-15.2},{"c":"110","q":3.56,"d":-12.73},{"c":"110","q":4.3,"d":-10.7},{"c":"110","q":5.05,"d":-8.9},
      {"c":"110","q":5.79,"d":-7.35},{"c":"110","q":6.54,"d":-5.93},{"c":"110","q":7.28,"d":-4.63},{"c":"110","q":8.03,"d":-3.43},
      {"c":"110","q":8.77,"d":-2.36},{"c":"110","q":10.0,"d":-0.76},
      {"c":"105","q":0.06,"d":30.0},{"c":"105","q":0.13,"d":22.45},{"c":"105","q":0.21,"d":15.25},{"c":"105","q":0.32,"d":9.08},
      {"c":"105","q":0.51,"d":4.96},{"c":"105","q":0.73,"d":2.08},{"c":"105","q":1.18,"d":-0.41},{"c":"105","q":1.7,"d":-1.64},
      {"c":"105","q":2.29,"d":-2.46},{"c":"105","q":2.89,"d":-2.77},{"c":"105","q":3.56,"d":-2.67},{"c":"105","q":4.68,"d":-2.05},
      {"c":"105","q":5.79,"d":-1.23},{"c":"105","q":6.91,"d":-0.21},{"c":"105","q":8.4,"d":1.03},{"c":"105","q":10.0,"d":1.85},
      {"c":"101","q":0.47,"d":30.0},{"c":"101","q":0.66,"d":26.56},{"c":"101","q":0.95,"d":23.06},{"c":"101","q":1.33,"d":20.18},
      {"c":"101","q":1.7,"d":17.71},{"c":"101","q":2.14,"d":15.25},{"c":"101","q":2.59,"d":13.19},{"c":"101","q":3.19,"d":10.93},
      {"c":"101","q":3.93,"d":8.46},{"c":"101","q":4.68,"d":6.6},{"c":"101","q":5.42,"d":5.37},{"c":"101","q":6.17,"d":4.55},
      {"c":"101","q":6.91,"d":4.24},{"c":"101","q":8.4,"d":4.03},{"c":"101","q":10.0,"d":4.1},
      {"c":"100","q":0.67,"d":30.0},{"c":"100","q":0.95,"d":25.53},{"c":"100","q":1.33,"d":21.83},{"c":"100","q":1.7,"d":18.95},
      {"c":"100","q":2.07,"d":16.69},{"c":"100","q":2.44,"d":14.84},{"c":"100","q":2.89,"d":12.98},{"c":"100","q":3.34,"d":11.34},
      {"c":"100","q":3.93,"d":9.49},{"c":"100","q":4.68,"d":7.84},{"c":"100","q":5.42,"d":6.6},{"c":"100","q":6.17,"d":5.78},
      {"c":"100","q":6.91,"d":5.27},{"c":"100","q":7.65,"d":4.96},{"c":"100","q":8.77,"d":4.75},{"c":"100","q":10.0,"d":4.65}
    ],
    "txtB": [
      {"q":1.09,"d":24.2,"t":"RH=100 %"},
      {"q":0.6,"d":7.43,"t":"RHi=101 %"},
      {"q":0.77,"d":-5.24,"t":"RHi=105 %"},
      {"q":2.85,"d":-15.7,"t":"RHi=110 %"}
    ],
    "lblB": [{"q":9.58,"d":27.3,"t":"(b)"}]
  },
  "hconcat": [
    {
      "width": 812,
      "height": 810,
      "encoding": {
        "x": {"field": "q", "type": "quantitative", "title": "q (g kg⁻¹)",
              "scale": {"domain": [1, 10], "nice": false, "zero": false},
              "axis": {"values": [1, 2, 3, 4, 5, 6, 7, 8, 9, 10]}},
        "y": {"field": "d", "type": "quantitative", "title": "δ¹⁸O  (‰)",
              "scale": {"domain": [-40, -8], "nice": false, "zero": false},
              "axis": {"values": [-40, -36, -32, -28, -24, -20, -16, -12, -8]}}
      },
      "layer": [
        {
          "data": {"name": "ptsA"},
          "mark": {"type": "point", "shape": "circle", "filled": false, "size": 560, "strokeWidth": 2.2, "opacity": 1},
          "encoding": {
            "color": {
              "field": "s", "type": "nominal",
              "scale": {"domain": ["I", "T", "S"], "range": ["#f94f78", "#f7b043", "#10eef0"]},
              "legend": {
                "title": null, "orient": "none", "legendX": 534.5, "legendY": 543.5,
                "labelFontSize": 25, "labelOffset": 33.6,
                "symbolType": "circle", "symbolSize": 620, "symbolStrokeWidth": 2.5,
                "clipHeight": 31, "rowPadding": 4.5,
                "labelExpr": "{'I':'Ice-free Region','T':'Transition Region','S':'Sea Ice Region'}[datum.label]"
              }
            }
          }
        },
        {
          "data": {"name": "bandA"},
          "mark": {"type": "area", "fillOpacity": 0.32, "stroke": "black", "strokeWidth": 1, "clip": true, "interpolate": "monotone"},
          "encoding": {
            "y2": {"field": "d2"},
            "detail": {"field": "b", "type": "nominal"},
            "fill": {
              "datum": "B", "type": "nominal",
              "scale": {"domain": ["B"], "range": ["#b3b3b3"]},
              "legend": {
                "title": null, "orient": "none", "legendX": 516, "legendY": 761.5,
                "labelFontSize": 25, "labelOffset": 15,
                "symbolType": "M-1,-0.45H1V0.45H-1Z", "symbolSize": 4096,
                "symbolStrokeColor": "#333333", "symbolStrokeWidth": 1.5,
                "clipHeight": 31,
                "labelExpr": "'Initial δ ±1σ'"
              }
            }
          }
        },
        {
          "data": {"name": "curA"},
          "mark": {"type": "line", "strokeWidth": 3.5, "interpolate": "monotone"},
          "encoding": {
            "stroke": {
              "field": "c", "type": "nominal",
              "scale": {"domain": ["M", "20", "5"], "range": ["#1a8a2a", "#e8302a", "#3a8ee8"]},
              "legend": {
                "title": null, "orient": "none", "legendX": 515, "legendY": 648.5,
                "labelFontSize": 25, "labelOffset": 15,
                "symbolType": "stroke", "symbolSize": 3969, "symbolStrokeWidth": 4,
                "clipHeight": 31, "rowPadding": 3,
                "labelExpr": "{'M':'Mixing Line','20':'20 ℃','5':'5 ℃'}[datum.label]"
              }
            }
          }
        },
        {
          "data": {"name": "hlineA"},
          "mark": {"type": "line", "color": "black", "strokeWidth": 2.5},
          "encoding": {}
        },
        {
          "data": {"name": "lblA"},
          "mark": {"type": "text", "font": "Liberation Serif", "fontWeight": "bold", "fontSize": 33, "color": "black"},
          "encoding": {"text": {"field": "t"}}
        }
      ]
    },
    {
      "width": 811,
      "height": 810,
      "encoding": {
        "x": {"field": "q", "type": "quantitative", "title": "q (g kg⁻¹)",
              "scale": {"domain": [0, 10], "nice": false},
              "axis": {"values": [0, 1, 2, 3, 4, 5, 6, 7, 8, 9, 10]}},
        "y": {"field": "d", "type": "quantitative", "title": "d-excess (‰)",
              "scale": {"domain": [-20, 30], "nice": false, "zero": false},
              "axis": {"values": [-20, -15, -10, -5, 0, 5, 10, 15, 20, 25, 30]}}
      },
      "layer": [
        {
          "data": {"name": "ptsB"},
          "mark": {"type": "point", "shape": "circle", "filled": false, "size": 560, "strokeWidth": 2.2, "opacity": 1},
          "encoding": {
            "color": {
              "field": "s", "type": "nominal",
              "scale": {"domain": ["I", "T", "S"], "range": ["#f94f78", "#f7b043", "#10eef0"]},
              "legend": {
                "title": null, "orient": "none", "legendX": 588, "legendY": 593,
                "labelFontSize": 20, "labelOffset": 35,
                "symbolType": "circle", "symbolSize": 380, "symbolStrokeWidth": 2,
                "clipHeight": 24, "rowPadding": 3.5,
                "labelExpr": "{'I':'Ice-free Region','T':'Transition Region','S':'Sea Ice Region'}[datum.label]"
              }
            }
          }
        },
        {
          "data": {"name": "curB"},
          "mark": {"type": "line", "strokeWidth": 3.5, "interpolate": "monotone"},
          "encoding": {
            "stroke": {
              "field": "c", "type": "nominal",
              "scale": {"domain": ["110", "105", "101", "100"], "range": ["#ff1010", "#ff6a00", "#8c0fd0", "#1a86ff"]},
              "legend": {
                "title": null, "orient": "none", "legendX": 566, "legendY": 677,
                "labelFontSize": 20, "labelOffset": 25.5,
                "symbolType": "stroke", "symbolSize": 2601, "symbolStrokeWidth": 4.5,
                "clipHeight": 26, "rowPadding": 4.5,
                "labelExpr": "{'110':'RHi = 110 %','105':'RHi = 105 %','101':'RHi = 101 %','100':'RHi = 100 %'}[datum.label]"
              }
            }
          }
        },
        {
          "data": {"name": "txtB"},
          "mark": {"type": "text", "font": "Lato", "fontSize": 23, "align": "left", "baseline": "middle", "color": "#1a1a1a"},
          "encoding": {"text": {"field": "t"}}
        },
        {
          "data": {"name": "lblB"},
          "mark": {"type": "text", "font": "Liberation Serif", "fontWeight": "bold", "fontSize": 33, "color": "black"},
          "encoding": {"text": {"field": "t"}}
        }
      ]
    }
  ]
}
